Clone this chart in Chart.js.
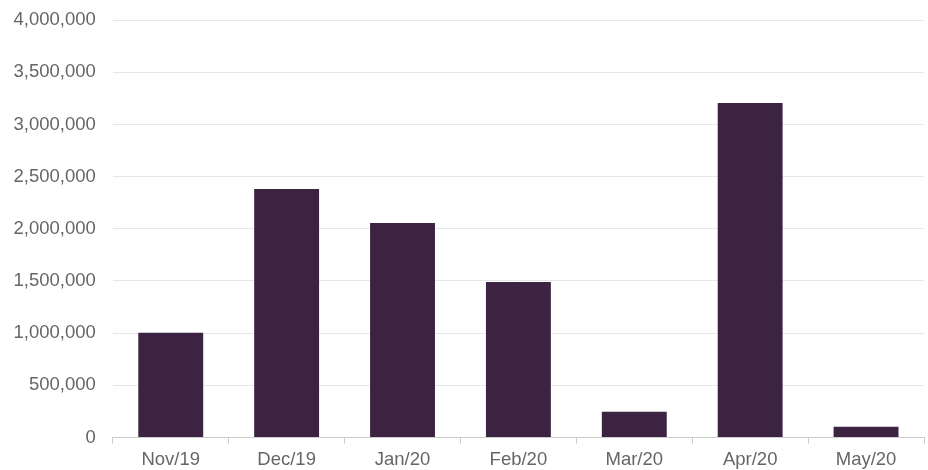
<!DOCTYPE html>
<html>
<head>
<meta charset="utf-8">
<script src="https://cdn.jsdelivr.net/npm/chart.js@4"></script>
<style>
  html, body { margin: 0; padding: 0; background: #fff; }
  #wrap { width: 928px; height: 470px; }
</style>
</head>
<body>
<div id="wrap"><canvas id="ventasChart" width="928" height="470"></canvas></div>
<script>
// datos del grafico
const meses = ['Nov/19', 'Dec/19', 'Jan/20', 'Feb/20', 'Mar/20', 'Apr/20', 'May/20'];
const valores = [1003000, 2382000, 2056000, 1491000, 246000, 3206000, 102000];
const yMax = 4000000;
const yPaso = 500000;

const ctx = document.getElementById('ventasChart').getContext('2d');

const chart = new Chart(ctx, {
    type: 'bar',
    data: {
        labels: meses,
        datasets: [{
            data: valores,
            backgroundColor: '#3b2341',
            borderWidth: 0,
            barPercentage: 0.56,
            categoryPercentage: 1
        }]
    },
    options: {
        responsive: false,
        animation: false,
        layout: { padding: { top: 0, left: 4.5, right: 4, bottom: 0 } },
        plugins: {
            legend: { display: false },
            tooltip: { enabled: false }
        },
        scales: {
            x: {
                grid: {
                    display: true,
                    drawOnChartArea: false,
                    offset: true,
                    tickLength: 6,
                    color: '#cccccc'
                },
                border: { display: true, color: '#cccccc' },
                ticks: {
                    color: '#666666',
                    font: { family: '"Liberation Sans", Arial, sans-serif', size: 18.5 },
                    padding: 5,
                    maxRotation: 0
                },
                afterFit: (scale) => { scale.height = 32.5; } // alto fijo del eje x
            },
            y: {
                min: 0,
                max: yMax,
                grid: {
                    color: '#e6e6e6',
                    drawTicks: true,
                    tickLength: 8,
                    tickColor: 'rgba(0,0,0,0)' // marcas invisibles, solo dan espacio
                },
                border: { display: false },
                ticks: {
                    stepSize: yPaso,
                    color: '#666666',
                    padding: 9,
                    font: { family: '"Liberation Sans", Arial, sans-serif', size: 18.5 },
                    callback: (v) => v.toLocaleString('en-US')
                }
            }
        }
    }
});
</script>
</body>
</html>
